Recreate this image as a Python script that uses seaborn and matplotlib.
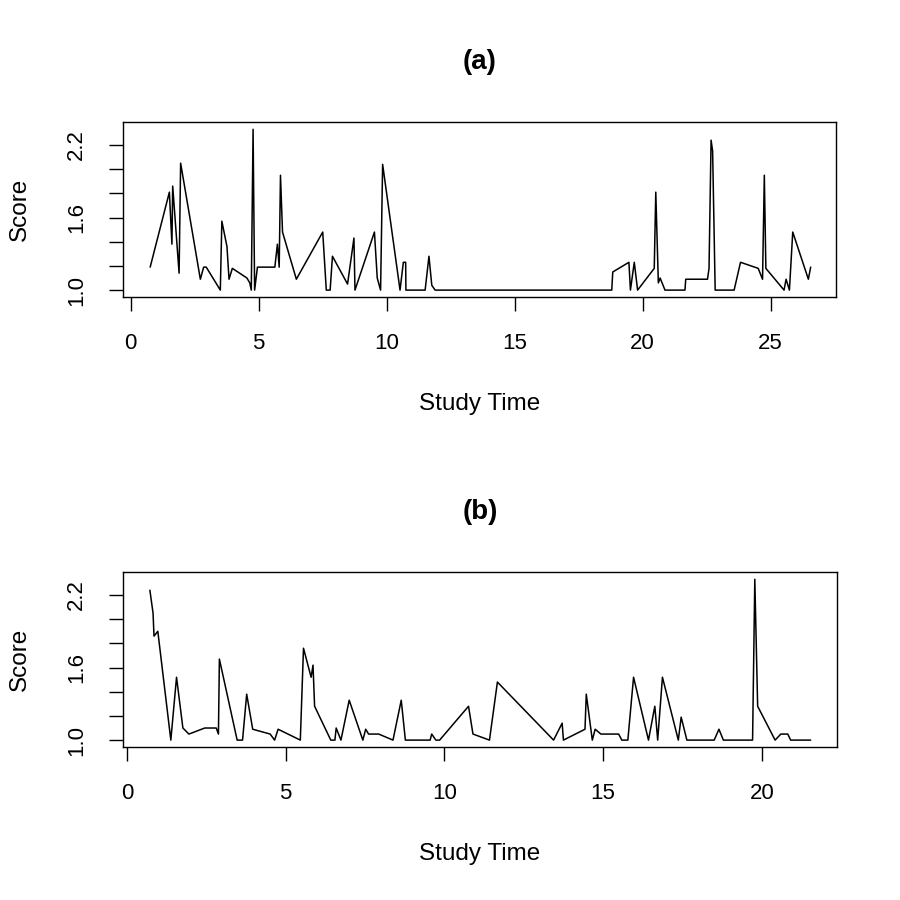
import numpy as np
import pandas as pd
import seaborn as sns
import matplotlib
matplotlib.use("Agg")
import matplotlib.pyplot as plt

# panel (a)
time_a = [0.76, 1.51, 1.61, 1.64, 1.89, 1.95, 2.72, 2.85, 2.95, 3.50, 3.56, 3.76, 3.84, 3.97,
          4.54, 4.65, 4.71, 4.78, 4.84, 4.95, 5.63, 5.73, 5.80, 5.85, 5.93, 6.47, 7.50, 7.64,
          7.79, 7.88, 8.47, 8.72, 8.76, 9.52, 9.63, 9.76, 9.84, 10.52, 10.65, 10.74, 10.75,
          11.50, 11.65, 11.76, 11.89, 18.79, 18.83, 19.46, 19.52, 19.67, 19.80, 20.45, 20.51,
          20.61, 20.68, 20.87, 21.65, 21.68, 22.53, 22.59, 22.67, 22.73, 22.83, 23.57, 23.82,
          24.51, 24.68, 24.75, 24.81, 25.52, 25.60, 25.73, 25.86, 26.47, 26.56]
score_a = [1.19, 1.81, 1.38, 1.86, 1.14, 2.05, 1.09, 1.19, 1.19, 1.00, 1.57, 1.36, 1.09, 1.18,
           1.10, 1.06, 1.00, 2.33, 1.00, 1.19, 1.19, 1.38, 1.19, 1.95, 1.48, 1.09, 1.48, 1.00,
           1.00, 1.28, 1.05, 1.43, 1.00, 1.48, 1.10, 1.00, 2.04, 1.00, 1.23, 1.23, 1.00,
           1.00, 1.28, 1.04, 1.00, 1.00, 1.15, 1.23, 1.00, 1.23, 1.00, 1.18, 1.81,
           1.06, 1.10, 1.00, 1.00, 1.09, 1.09, 1.18, 2.24, 2.15, 1.00, 1.00, 1.23,
           1.18, 1.09, 1.95, 1.18, 1.00, 1.09, 1.00, 1.48, 1.09, 1.19]

# panel (b)
time_b = [0.72, 0.82, 0.85, 0.97, 1.38, 1.56, 1.76, 1.95, 2.45, 2.81, 2.88, 2.91, 3.47, 3.64,
          3.77, 3.96, 4.51, 4.65, 4.76, 5.46, 5.56, 5.80, 5.86, 5.91, 6.42, 6.55, 6.59, 6.74,
          7.00, 7.43, 7.52, 7.61, 7.93, 8.38, 8.64, 8.77, 9.55, 9.60, 9.73, 9.85, 10.76, 10.90,
          11.42, 11.67, 13.44, 13.71, 13.75, 14.43, 14.47, 14.66, 14.75, 14.93, 15.49, 15.59,
          15.78, 15.96, 16.43, 16.63, 16.72, 16.87, 17.37, 17.46, 17.64, 18.50, 18.65, 18.79,
          19.71, 19.78, 19.87, 20.42, 20.60, 20.82, 20.91, 21.54]
score_b = [2.24, 2.05, 1.86, 1.90, 1.00, 1.52, 1.10, 1.05, 1.10, 1.10, 1.05, 1.67, 1.00, 1.00,
           1.38, 1.09, 1.05, 1.00, 1.09, 1.00, 1.76, 1.52, 1.62, 1.28, 1.00, 1.00, 1.10, 1.00,
           1.33, 1.00, 1.09, 1.05, 1.05, 1.00, 1.33, 1.00, 1.00, 1.05, 1.00, 1.00, 1.28, 1.05,
           1.00, 1.48, 1.00, 1.14, 1.00, 1.09, 1.38, 1.00, 1.09, 1.05, 1.05, 1.00,
           1.00, 1.52, 1.00, 1.28, 1.00, 1.52, 1.00, 1.19, 1.00, 1.00, 1.09, 1.00,
           1.00, 2.33, 1.28, 1.00, 1.05, 1.05, 1.00, 1.00]

titles = ["(a)", "(b)"]
x_ticks = [[0, 5, 10, 15, 20, 25], [0, 5, 10, 15, 20]]
y_ticks = [1.0, 1.2, 1.4, 1.6, 1.8, 2.0, 2.2]
y_ticklabels = ["1.0", "", "", "1.6", "", "", "2.2"]

sns.set_style("ticks")
plt.rcParams["font.family"] = ["Liberation Sans", "DejaVu Sans"]
plt.rcParams["text.color"] = "black"
plt.rcParams["axes.labelcolor"] = "black"
plt.rcParams["xtick.color"] = "black"
plt.rcParams["ytick.color"] = "black"

fig = plt.figure(figsize=(9, 9), dpi=100)
ax_a = fig.add_axes([0.1367, 0.670, 0.7922, 0.1944])
ax_b = fig.add_axes([0.1367, 0.170, 0.7933, 0.1944])

panels = [(ax_a, time_a, score_a, (-0.30, 27.55)),
          (ax_b, time_b, score_b, (-0.126, 22.37))]

for i, (ax, t, s, xlim) in enumerate(panels):
    df = pd.DataFrame({"Study Time": t, "Score": s})
    sns.lineplot(data=df, x="Study Time", y="Score", ax=ax, color="black",
                 linewidth=1.1, estimator=None, sort=False)
    ax.set_xlim(*xlim)
    ax.set_ylim(0.943, 2.39)
    ax.set_xticks(x_ticks[i])
    ax.set_yticks(y_ticks)
    ax.set_yticklabels(y_ticklabels, rotation=90, va="center")
    ax.tick_params(axis="both", labelsize=16, length=10, width=1.0, color="black",
                   labelcolor="black")
    ax.tick_params(axis="x", pad=16)
    ax.tick_params(axis="y", pad=16)
    for sp in ax.spines.values():
        sp.set_visible(True)
        sp.set_linewidth(1.0)
        sp.set_color("black")
    ax.set_xlabel("Study Time", fontsize=17.5, va="center")
    ax.xaxis.set_label_coords(0.5, -0.611)
    ax.set_ylabel("Score", fontsize=17.5, va="center", ha="center")
    ax.yaxis.set_label_coords(-0.145, 0.5)
    ax.set_title(titles[i], fontsize=20, fontweight="bold", y=1.343, pad=0, va="center")

fig.savefig("out.png", dpi=100)
